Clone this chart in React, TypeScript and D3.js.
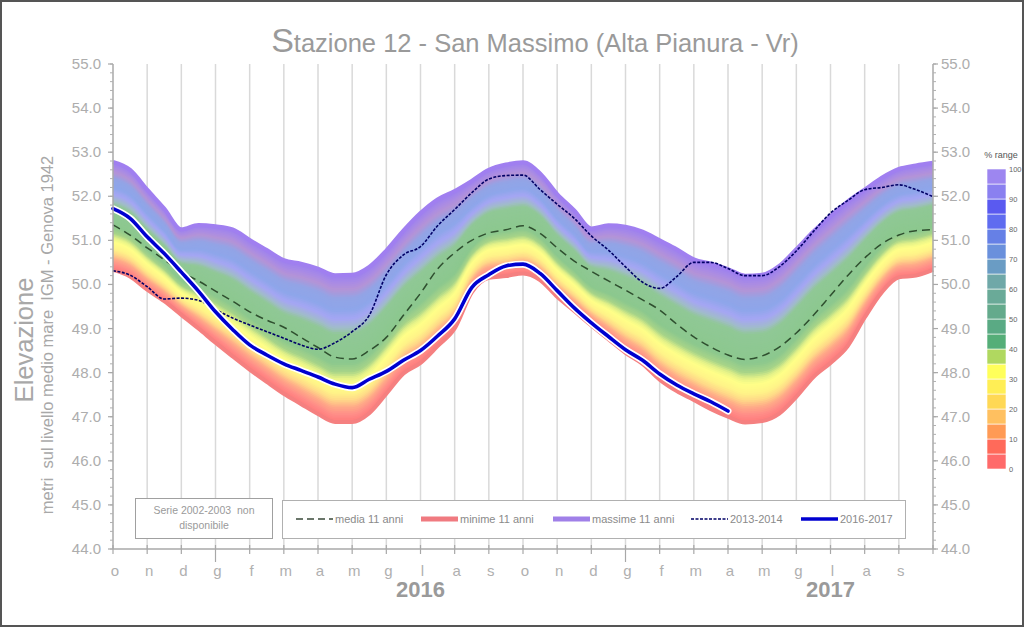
import React from "react";
import * as d3 from "d3";

// ---------- DATA ----------
const monthLabels = ["o","n","d","g","f","m","a","m","g","l","a","s","o","n","d","g","f","m","a","m","g","l","a","s"];
const yearLabels = [{ label: "2016", start: 3 }, { label: "2017", start: 15 }];
const yTicks = [44, 45, 46, 47, 48, 49, 50, 51, 52, 53, 54, 55];
const rangeTicks = [0, 10, 20, 30, 40, 50, 60, 70, 80, 90, 100];

// sampling grid in months (half-month steps from 1 Oct 2015)
const t = d3.range(0, 24.001, 0.5);

const maxVals = [52.78,52.60,52.15,51.72,51.25,51.35,51.32,51.25,51.01,50.78,50.55,50.47,50.36,50.21,50.22,50.40,50.77,51.22,51.62,51.93,52.12,52.35,52.60,52.72,52.77,
  52.52,52.05,51.68,51.27,51.34,51.31,51.20,51.00,50.80,50.57,50.47,50.35,50.20,50.22,50.42,50.80,51.20,51.55,51.88,52.15,52.42,52.62,52.70,52.76];
const minVals = [50.33,50.18,49.88,49.62,49.31,49.00,48.68,48.37,48.07,47.79,47.52,47.29,47.06,46.88,46.88,47.08,47.52,47.98,48.22,48.60,49.00,49.82,50.15,50.19,50.25,
  50.10,49.72,49.40,49.07,48.76,48.45,48.20,47.84,47.58,47.38,47.17,47.00,46.87,46.90,47.07,47.45,47.90,48.22,48.60,49.25,49.82,50.16,50.20,50.33];
const meanVals = [51.35,51.12,50.83,50.56,50.28,50.08,49.85,49.62,49.38,49.19,49.03,48.80,48.57,48.35,48.31,48.50,48.80,49.30,49.80,50.35,50.72,51.00,51.17,51.24,51.33,
  51.16,50.83,50.53,50.30,50.08,49.87,49.65,49.42,49.10,48.81,48.58,48.40,48.30,48.38,48.58,48.90,49.30,49.75,50.20,50.60,50.92,51.12,51.22,51.24];
const s1314 = [50.31,50.21,49.95,49.67,49.69,49.64,49.43,49.24,49.08,48.93,48.78,48.63,48.53,48.68,48.93,49.30,50.22,50.67,50.86,51.33,51.70,52.08,52.39,52.47,52.48,
  52.15,51.82,51.50,51.10,50.78,50.40,50.05,49.91,50.18,50.50,50.50,50.36,50.20,50.20,50.40,50.76,51.20,51.62,51.90,52.15,52.20,52.26,52.15,51.99];
const s1617 = [51.72,51.50,51.08,50.70,50.28,49.85,49.38,48.98,48.63,48.40,48.20,48.05,47.90,47.74,47.66,47.85,48.03,48.28,48.50,48.83,49.22,49.93,50.22,50.42,50.46,
  50.25,49.86,49.47,49.13,48.82,48.52,48.28,47.97,47.72,47.52,47.34,47.13];

// colour ramp of the percentile band (0 = minimum, 1 = maximum)
const bandStops = [0, 0.05, 0.10, 0.15, 0.20, 0.26, 0.30, 0.34, 0.40, 0.60, 0.64, 0.70, 0.76, 0.84, 0.90, 0.95, 1];
const bandColors = ["#ff7a7a","#ff8c88","#ffa888","#ffd888","#fff488","#ffff88","#e4f288","#a8d488","#8cc88e","#90c896","#a0bcc8","#a6a6f4","#8ea6ea","#92a4e6","#b494d6","#a88ae6","#9b7ff0"];

// % range legend cells, from 0-5 up to 95-100
const rangeColors = ["#ff6a6a","#ff6a5a","#ff9a55","#ffc060","#ffd855","#ffee55","#ffff5a","#b0d860","#55ae78","#5aaa84",
  "#64aa8c","#6aaa98","#6fa8a8","#6a9cc4","#6a90dc","#6680e6","#5f6cf0","#5a5af0","#8a80f0","#9d86f0"];

const legendItems = [
  { label: "media 11 anni", color: "#3a4a3a", width: 1.5, dash: "7,4", x: 296 },
  { label: "minime 11 anni", color: "#f07a80", width: 5, dash: null, x: 421 },
  { label: "massime 11 anni", color: "#a080e8", width: 5, dash: null, x: 553 },
  { label: "2013-2014", color: "#000066", width: 1.6, dash: "3,1.5", x: 691 },
  { label: "2016-2017", color: "#0000d0", width: 3.5, dash: null, x: 801 },
];

export default function App() {
  const W = 1024, H = 627;
  const x = d3.scaleLinear().domain([0, 24]).range([113, 933]);
  const y = d3.scaleLinear().domain([44, 55]).range([549, 64]);
  const color = d3.scaleLinear<string>().domain(bandStops).range(bandColors).interpolate(d3.interpolateRgb);
  const curve = d3.curveMonotoneX;
  const font = "'Liberation Sans', Arial, sans-serif";

  const nBands = 80;
  const bands = [];
  for (let i = nBands; i >= 1; i--) {
    const f = i / nBands;
    const area = d3.area<number>()
      .x((_, k) => x(t[k]))
      .y0((_, k) => y(minVals[k]))
      .y1((_, k) => y(minVals[k] + f * (maxVals[k] - minVals[k])))
      .curve(curve);
    bands.push(<path key={"b" + i} d={area(t) || ""} fill={color((i - 0.5) / nBands)} />);
  }

  const line = (vals: number[]) =>
    d3.line<number>().x((_, k) => x(t[k])).y((v) => y(v)).curve(curve)(vals) || "";

  const minorTicks = d3.range(44, 55.001, 0.2);
  const yL = d3.scaleLinear().domain([0, 100]).range([469, 169]);

  return (
    <svg width={W} height={H} style={{ position: "absolute", left: 0, top: 0, background: "#fff" }} fontFamily={font}>
      <rect x={0} y={0} width={W} height={H} fill="#fff" />
      {/* title */}
      <text x={535} y={52} textAnchor="middle" fill="#9a9a9a">
        <tspan fontSize={34}>S</tspan>
        <tspan fontSize={25.5}>tazione 12 - San Massimo (Alta Pianura - Vr)</tspan>
      </text>

      {/* vertical grid */}
      {d3.range(1, 24).map((m) => (
        <line key={"g" + m} x1={x(m)} x2={x(m)} y1={y(55)} y2={y(44)} stroke="#d9d9d9" strokeWidth={1.5} />
      ))}

      {/* percentile band */}
      {bands}
      <path d={line(maxVals)} fill="none" stroke="#a07ff0" strokeWidth={4} />
      <path d={line(minVals)} fill="none" stroke="#f58080" strokeWidth={4} />

      {/* series */}
      <path d={line(meanVals)} fill="none" stroke="#2f4f2f" strokeWidth={1.5} strokeDasharray="8,5" />
      <path d={line(s1314)} fill="none" stroke="#000066" strokeWidth={1.6} strokeDasharray="3,1.5" />
      <path d={line(s1617)} fill="none" stroke="#fff" strokeWidth={7} strokeLinecap="round" />
      <path d={line(s1617)} fill="none" stroke="#0000d0" strokeWidth={3.6} strokeLinecap="round" />

      {/* axes */}
      <line x1={x(0)} x2={x(0)} y1={y(55)} y2={y(44)} stroke="#a8a8a8" strokeWidth={1.5} />
      <line x1={x(24)} x2={x(24)} y1={y(55)} y2={y(44)} stroke="#a8a8a8" strokeWidth={1.5} />
      <line x1={x(0)} x2={x(24)} y1={y(44)} y2={y(44)} stroke="#a8a8a8" strokeWidth={1.5} />
      {minorTicks.map((v, i) => (
        <g key={"mt" + i}>
          <line x1={x(0) - 3} x2={x(0)} y1={y(v)} y2={y(v)} stroke="#b0b0b0" strokeWidth={1} />
          <line x1={x(24)} x2={x(24) + 3} y1={y(v)} y2={y(v)} stroke="#b0b0b0" strokeWidth={1} />
        </g>
      ))}
      {yTicks.map((v) => (
        <g key={"yt" + v}>
          <line x1={x(0) - 5} x2={x(0)} y1={y(v)} y2={y(v)} stroke="#a8a8a8" strokeWidth={1.2} />
          <line x1={x(24)} x2={x(24) + 5} y1={y(v)} y2={y(v)} stroke="#a8a8a8" strokeWidth={1.2} />
          <text x={101} y={y(v) + 5} textAnchor="end" fontSize={15} fill="#adadad">{v.toFixed(1)}</text>
          <text x={941} y={y(v) + 5} textAnchor="start" fontSize={15} fill="#adadad">{v.toFixed(1)}</text>
        </g>
      ))}
      {d3.range(0, 25).map((m) => (
        <line key={"xt" + m} x1={x(m)} x2={x(m)} y1={y(44) - 4}
          y2={m === 3 || m === 15 ? y(44) + 13 : y(44) + 5} stroke="#a8a8a8" strokeWidth={1.2} />
      ))}
      {monthLabels.map((l, i) => (
        <text key={"ml" + i} x={x(i) + 2} y={576} textAnchor="middle" fontSize={15} fill="#b0b0b0">{l}</text>
      ))}
      {yearLabels.map((yl) => (
        <text key={yl.label} x={x(yl.start + 6)} y={597} textAnchor="middle" fontSize={22} fontWeight="bold" fill="#9a9a9a">{yl.label}</text>
      ))}

      {/* y titles */}
      <text transform="translate(33,340) rotate(-90)" textAnchor="middle" fontSize={25.5} fill="#a8a8a8">Elevazione</text>
      <text transform="translate(53,335) rotate(-90)" textAnchor="middle" fontSize={16.5} fill="#a8a8a8" style={{ whiteSpace: "pre" }}>
        {"metri  sul livello medio mare  IGM - Genova 1942"}
      </text>

      {/* legend boxes */}
      <rect x={135.5} y={498.5} width={137} height={40} fill="#fff" stroke="#a0a0a0" />
      <text x={204} y={514} textAnchor="middle" fontSize={10.5} fill="#9a9a9a" style={{ whiteSpace: "pre" }}>{"Serie 2002-2003  non"}</text>
      <text x={204} y={529} textAnchor="middle" fontSize={10.5} fill="#9a9a9a">disponibile</text>

      <rect x={282.5} y={500.5} width={623} height={38} fill="#fff" stroke="#b0b0b0" />
      {legendItems.map((it) => (
        <g key={it.label}>
          <line x1={it.x} x2={it.x + 37} y1={519} y2={519} stroke={it.color} strokeWidth={it.width}
            strokeDasharray={it.dash || undefined} />
          <text x={it.x + 39} y={523} fontSize={11} fill="#8a8a8a">{it.label}</text>
        </g>
      ))}

      {/* % range legend */}
      <text x={1001} y={158} textAnchor="middle" fontSize={9} fill="#555">% range</text>
      {rangeColors.map((c, i) => (
        <rect key={"rc" + i} x={987} y={yL(i * 5 + 5)} width={19} height={yL(i * 5) - yL(i * 5 + 5)} fill={c} stroke="#fff" strokeWidth={0.6} />
      ))}
      {rangeTicks.map((v) => (
        <text key={"rt" + v} x={1009} y={yL(v) + 3} fontSize={7.5} fill="#666">{v}</text>
      ))}

      {/* outer frame */}
      <rect x={1} y={1} width={W - 2} height={H - 2} fill="none" stroke="#555" strokeWidth={2} />
    </svg>
  );
}
